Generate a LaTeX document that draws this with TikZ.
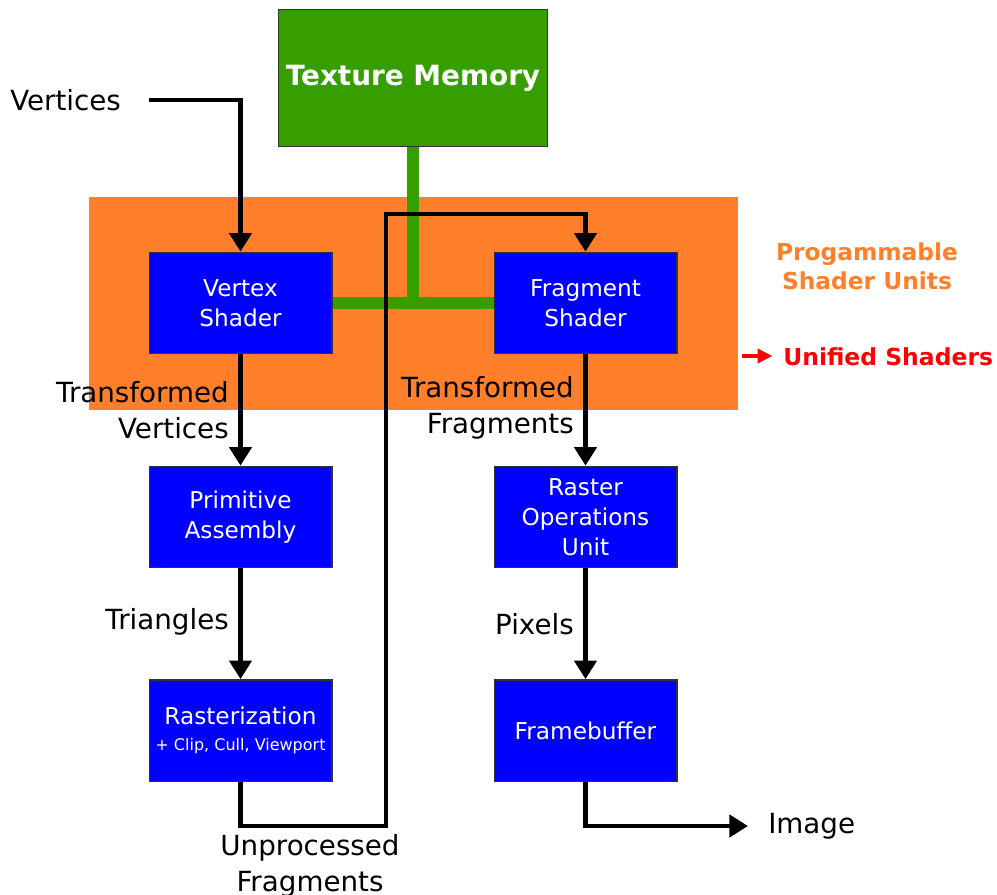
\documentclass[tikz,border=0pt]{standalone}
\usepackage{fontspec}
\setmainfont{DejaVu Sans}
\usepackage{tikz}
\usetikzlibrary{arrows.meta, positioning, calc}
\definecolor{shaderOrange}{RGB}{255,127,42}
\definecolor{memGreen}{RGB}{55,158,0}
\definecolor{unitBlue}{RGB}{0,0,255}

\tikzset{
    unit/.style={draw=black!80, line width=1pt, fill=unitBlue, text=white, align=center,
        minimum width=137pt, minimum height=76pt, inner sep=0pt,
        font=\fontsize{17.4}{22.5}\selectfont},
    tag/.style={align=right, inner sep=0pt, font=\fontsize{20.8}{26.5}\selectfont},
    flow/.style={line width=3.7pt, -{Triangle[length=14pt, width=16.5pt]}},
    bus/.style={line width=9pt, memGreen},
}

\begin{document}
\begin{tikzpicture}[x=0.75pt, y=-0.75pt]
    \useasboundingbox (0,0) rectangle (997,894);

    % shader area
    \fill[shaderOrange] (89,197) rectangle (738,410);

    \node[draw=black!80, fill=memGreen, text=white, minimum width=202pt, minimum height=103pt,
        font=\fontsize{20.9}{24}\selectfont\bfseries] (texmem) at (413,78) {Texture Memory};

    % pipeline stages
    \node[unit] (vertex)    at (240.5,303)   {Vertex\\Shader};
    \node[unit] (primitive) at (240.5,517)   {Primitive\\Assembly};
    \node[unit] (raster)    at (240.5,730.5) {Rasterization\\[-3pt]{\fontsize{12}{14}\selectfont + Clip, Cull, Viewport}};
    \node[unit] (fragment)  at (585.5,303)   {Fragment\\Shader};
    \node[unit] (rop)       at (585.5,517)   {Raster\\Operations\\Unit};
    \node[unit] (framebuf)  at (585.5,730.5) {Framebuffer};

    % texture lookups
    \coordinate (busjoin) at (texmem.south |- vertex.east);
    \draw[bus] (texmem.south) -- ([yshift=-4.5pt]busjoin);
    \draw[bus] (vertex.east) -- (fragment.west);

    % labels
    \node[tag, anchor=west] (vertices) at (10,100) {Vertices};
    \node[tag, anchor=east] (tverts) at (229,410) {Transformed\\Vertices};
    \node[tag, anchor=east] (tris) at (229,622) {Triangles};
    \node[tag, anchor=east] (tfrags) at (574,408) {Transformed\\Fragments};
    \node[tag, anchor=east] (pixels) at (574,624) {Pixels};
    \node[tag, align=center] (unproc) at (310,866) {Unprocessed\\Fragments};
    \node[tag, anchor=west] (image) at (768,826) {Image};

    \node[align=center, text=shaderOrange, font=\fontsize{17.5}{22}\selectfont\bfseries]
        (progunits) at (867,266) {Progammable\\Shader Units};
    \node[anchor=west, inner sep=0pt, text=red, font=\fontsize{17.6}{22}\selectfont\bfseries]
        (unified) at (783,357) {Unified Shaders};
    \coordinate (unifiedtail) at (742,356);
    \draw[line width=2.8pt, red, -{Triangle[length=11pt, width=10.5pt]}, shorten >=8pt]
        (unifiedtail) -- (unifiedtail -| unified.west);

    % data flow
    \draw[flow] ([xshift=21pt]vertices.east) -| (vertex.north);
    \draw[flow] (vertex.south) -- (primitive.north);
    \draw[flow] (primitive.south) -- (raster.north);
    \coordinate (loopA) at (386,826);
    \coordinate (loopB) at (386,214);
    \draw[flow] (raster.south) |- (loopA) -- (loopB) -| (fragment.north);
    \draw[flow] (fragment.south) -- (rop.north);
    \draw[flow] (rop.south) -- (framebuf.north);
    \draw[flow] (framebuf.south) |- ([xshift=-15pt]image.west);
\end{tikzpicture}
\end{document}
